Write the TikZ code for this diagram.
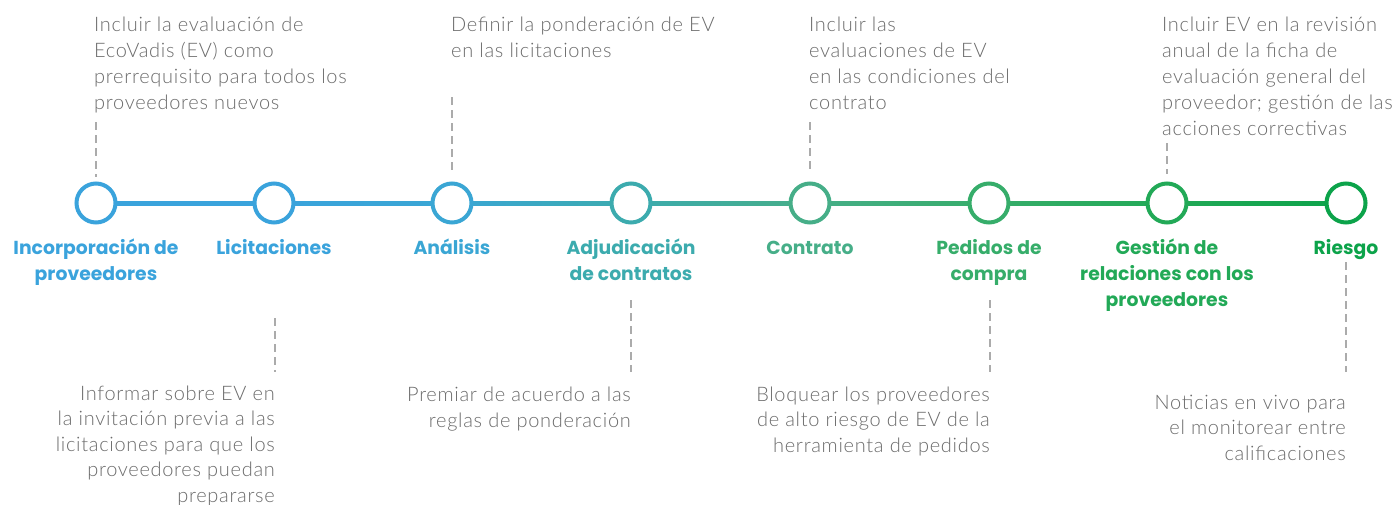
\documentclass[tikz,border=0pt]{standalone}
\usepackage{fontspec}
\setmainfont{Lato}[UprightFont=* Light, BoldFont=* Bold, LetterSpace=3.5]
\newfontfamily\lblfont{Poppins}
\usetikzlibrary{calc}
\definecolor{c1}{HTML}{3AA3DC}
\definecolor{c2}{HTML}{3AA3DC}
\definecolor{c3}{HTML}{3AA6D4}
\definecolor{c4}{HTML}{3CABAE}
\definecolor{c5}{HTML}{46AE88}
\definecolor{c6}{HTML}{36AD6A}
\definecolor{c7}{HTML}{22A957}
\definecolor{c8}{HTML}{0CA34A}
\definecolor{txt}{HTML}{6B6B6B}
\definecolor{dashc}{HTML}{ABABAB}
\tikzset{
  stage/.style={circle, draw=#1, fill=white, line width=4pt, minimum size=39pt, inner sep=0pt},
  lbl/.style={font=\lblfont\fontsize{18.8}{26}\selectfont\bfseries, text=#1, align=center, anchor=base, inner sep=0pt},
  desctop/.style={font=\fontsize{20}{25.8}\selectfont, text=txt, align=left, anchor=base west, inner sep=0pt},
  descbot/.style={font=\fontsize{20}{25.5}\selectfont, text=txt, align=right, anchor=base east, inner sep=0pt},
  dline/.style={draw=dashc, line width=2.6pt, dash pattern=on 8pt off 5pt},
}
\begin{document}
\begin{tikzpicture}[x=1pt,y=-1pt]
\useasboundingbox (0,0) rectangle (1399,504);
% stage circles
\foreach \i/\x in {1/96,2/274,3/452,4/631,5/810,6/989,7/1167,8/1346}{
  \coordinate (p\i) at (\x,203);
}
% connecting gradient segments
\foreach \a/\b in {1/2,2/3,3/4,4/5,5/6,6/7,7/8}{
  \path[left color=c\a, right color=c\b] ($(p\a)+(0,-2)$) rectangle ($(p\b)+(0,2)$);
}
\foreach \i in {1,...,8}{
  \node[stage=c\i] (n\i) at (p\i) {};
}
% stage labels (anchor = baseline of last line)
\node[lbl=c1] (l1) at (96,280) {Incorporación de\\proveedores};
\node[lbl=c2] (l2) at (274,254) {Licitaciones};
\node[lbl=c3] (l3) at (452,254) {Análisis};
\node[lbl=c4] (l4) at (631,280) {Adjudicación\\de contratos};
\node[lbl=c5] (l5) at (810,254) {Contrato};
\node[lbl=c6] (l6) at (989,280) {Pedidos de\\compra};
\node[lbl=c7] (l7) at (1167,306) {Gestión de\\relaciones con los\\proveedores};
\node[lbl=c8] (l8) at (1346,254) {Riesgo};
% top descriptions
\node[desctop] (t1) at (94,109) {Incluir la evaluación de\\EcoVadis (EV) como\\prerrequisito para todos los\\proveedores nuevos};
\node[desctop] (t3) at (451,57) {Definir la ponderación de EV\\en las licitaciones};
\node[desctop] (t5) at (809,109) {Incluir las\\evaluaciones de EV\\en las condiciones del\\contrato};
\node[desctop] (t7) at (1162,135) {Incluir EV en la revisión\\anual de la ficha de\\evaluación general del\\proveedor; gestión de las\\acciones correctivas};
% bottom descriptions
\node[descbot] (b2) at (275,502) {Informar sobre EV en\\la invitación previa a las\\licitaciones para que los\\proveedores puedan\\prepararse};
\node[descbot] (b4) at (631,427) {Premiar de acuerdo a las\\reglas de ponderación};
\node[descbot] (b6) at (990,452) {Bloquear los proveedores\\de alto riesgo de EV de la\\herramienta de pedidos};
\node[descbot] (b8) at (1346,460) {Noticias en vivo para\\el monitorear entre\\calificaciones};
% dashed leaders
\coordinate (d1) at (96,122);
\coordinate (d3) at (452,97);
\coordinate (d5) at (810,122);
\coordinate (d7) at (1167,143);
\coordinate (e2) at (275,318);
\coordinate (e4) at (631,300);
\coordinate (e6) at (990,300);
\coordinate (e8) at (1346,262);
\coordinate (f2) at (275,372);
\coordinate (f4) at (631,372);
\coordinate (f6) at (990,372);
\coordinate (f8) at (1346,372);
\draw[dline] (d1) -- ($(n1.north)+(0,-5)$);
\draw[dline] (d3) -- ($(n3.north)+(0,-8)$);
\draw[dline] (d5) -- ($(n5.north)+(0,-8)$);
\draw[dline] (d7) -- ($(n7.north)+(0,-8)$);
\draw[dline] (e2) -- (f2);
\draw[dline] (e4) -- (f4);
\draw[dline] (e6) -- (f6);
\draw[dline] (e8) -- (f8);
\end{tikzpicture}
\end{document}
